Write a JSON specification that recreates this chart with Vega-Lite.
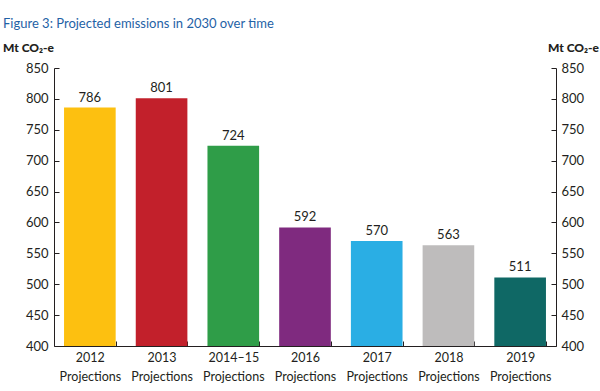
{
  "$schema": "https://vega.github.io/schema/vega-lite/v6.json",
  "width": 502,
  "height": 278,
  "autosize": "none",
  "padding": {"left": 54, "top": 68, "right": 44, "bottom": 45},
  "background": "white",
  "title": {
    "text": "Figure 3: Projected emissions in 2030 over time",
    "anchor": "start",
    "frame": "group",
    "dx": -51,
    "offset": 10,
    "font": "Lato",
    "fontSize": 13,
    "fontWeight": "normal",
    "color": "#1F62A6"
  },
  "config": {
    "view": {"stroke": null},
    "font": "Lato",
    "axis": {"labelFont": "Lato", "titleFont": "Lato", "labelColor": "#231F20", "domainColor": "#231F20", "tickColor": "#231F20", "grid": false}
  },
  "data": {
    "values": [
      {"proj": "2012 Projections", "value": 786, "color": "#FDC010"},
      {"proj": "2013 Projections", "value": 801, "color": "#C2202B"},
      {"proj": "2014–15 Projections", "value": 724, "color": "#2F9D48"},
      {"proj": "2016 Projections", "value": 592, "color": "#7F2A7F"},
      {"proj": "2017 Projections", "value": 570, "color": "#2AAEE4"},
      {"proj": "2018 Projections", "value": 563, "color": "#BEBCBC"},
      {"proj": "2019 Projections", "value": 511, "color": "#0F6865"}
    ]
  },
  "encoding": {
    "x": {
      "field": "proj",
      "type": "nominal",
      "sort": null,
      "scale": {"paddingInner": 0.28, "paddingOuter": 0.14},
      "axis": {
        "title": null,
        "labelAngle": 0,
        "labelExpr": "split(datum.label, ' ')",
        "labelFontSize": 12.5,
        "labelLineHeight": 19,
        "labelBaseline": "top",
        "labelOverlap": false,
        "labelPadding": 10,
        "tickBand": "extent",
        "tickSize": -5,
        "domainWidth": 1
      }
    }
  },
  "layer": [
    {
      "mark": {"type": "bar", "clip": true},
      "encoding": {
        "y": {
          "field": "value",
          "type": "quantitative",
          "scale": {"domain": [400, 850], "zero": false, "nice": false},
          "axis": {
            "orient": "left",
            "values": [400, 450, 500, 550, 600, 650, 700, 750, 800, 850],
            "tickSize": -5,
            "labelPadding": 11,
            "labelFontSize": 13,
            "title": "Mt CO₂-e",
            "titleAngle": 0,
            "titleAlign": "center",
            "titleBaseline": "middle",
            "titleX": -26,
            "titleY": -21,
            "titleFontSize": 12,
            "titleFontWeight": 900,
            "titleColor": "#231F20"
          }
        },
        "color": {"field": "color", "type": "nominal", "scale": null, "legend": null}
      }
    },
    {
      "mark": {"type": "text", "dy": -10, "fontSize": 13, "font": "Lato", "color": "#231F20"},
      "encoding": {
        "y": {"field": "value", "type": "quantitative", "scale": {"domain": [400, 850], "zero": false, "nice": false},
          "axis": {
            "orient": "right",
            "values": [400, 450, 500, 550, 600, 650, 700, 750, 800, 850],
            "tickSize": -5,
            "labelPadding": 10,
            "labelFontSize": 13,
            "title": "Mt CO₂-e",
            "titleAngle": 0,
            "titleAlign": "center",
            "titleBaseline": "middle",
            "titleX": 17,
            "titleY": -21,
            "titleFontSize": 12,
            "titleFontWeight": 900,
            "titleColor": "#231F20"
          }},
        "text": {"field": "value", "type": "quantitative"}
      }
    }
  ],
  "resolve": {"scale": {"y": "shared"}, "axis": {"y": "independent"}}
}
